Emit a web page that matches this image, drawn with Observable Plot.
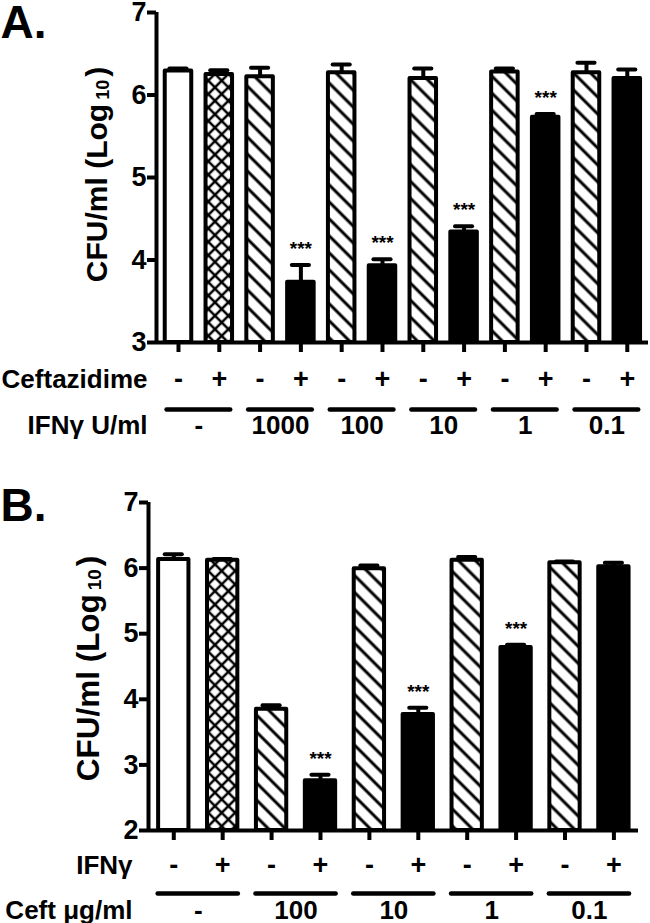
<!DOCTYPE html>
<html><head><meta charset="utf-8">
<script src="https://cdn.jsdelivr.net/npm/d3@7"></script>
<script src="https://cdn.jsdelivr.net/npm/@observablehq/plot@0.6"></script>
<style>
body{margin:0;background:#fff;}
#chart{width:650px;}
#chart svg{display:block;}
</style></head><body><div id="chart"></div>
<script>
// ---------- Panel A: IFN-gamma dose groups, Ceftazidime -/+ ----------
const aLetter = "A.";
const aCeftazidime = ["-","+","-","+","-","+","-","+","-","+","-","+"];
const aIfnGroups = ["-","1000","100","10","1","0.1"];
const aFills = ["open","cross","hatch","solid","hatch","solid","hatch","solid","hatch","solid","hatch","solid"];
const aMeans  = [6.29,6.25,6.22,3.73,6.27,3.93,6.20,4.34,6.28,5.73,6.27,6.20];
const aErrors = [0.03,0.05,0.11,0.21,0.10,0.08,0.12,0.07,0.04,0.04,0.12,0.11];
const aStars  = ["","","","***","","***","","***","","***","",""];
const aYTicks = [3,4,5,6,7];
const aRowLabel = "Ceftazidime";
const aGroupLabel = "IFNγ U/ml";

// ---------- Panel B: Ceftazidime dose groups, IFN-gamma -/+ ----------
const bLetter = "B.";
const bIfn = ["-","+","-","+","-","+","-","+","-","+"];
const bCeftGroups = ["-","100","10","1","0.1"];
const bFills = ["open","cross","hatch","solid","hatch","solid","hatch","solid","hatch","solid"];
const bMeans  = [6.13,6.12,3.85,2.76,5.99,3.77,6.12,4.79,6.08,6.02];
const bErrors = [0.08,0.02,0.06,0.09,0.05,0.10,0.05,0.04,0.02,0.06];
const bStars  = ["","","","***","","***","","***","",""];
const bYTicks = [2,3,4,5,6,7];
const bRowLabel = "IFNγ";
const bGroupLabel = "Ceft μg/ml";

const yTitle = "CFU/ml (Log10)";
const FONT = "Arial, 'Liberation Sans', Helvetica, sans-serif";

function patternDefs(id) {
  return () => {
    const defs = d3.create("svg:defs");
    const h = defs.append("pattern").attr("id", id + "-hatch")
      .attr("patternUnits", "userSpaceOnUse").attr("width", 12).attr("height", 12)
      .attr("patternTransform", "rotate(45)");
    h.append("rect").attr("width", 12).attr("height", 12).attr("fill", "white");
    h.append("line").attr("x1", 0).attr("x2", 12).attr("y1", 6).attr("y2", 6)
      .attr("stroke", "black").attr("stroke-width", 3);
    const c = defs.append("pattern").attr("id", id + "-cross")
      .attr("patternUnits", "userSpaceOnUse").attr("width", 9.5).attr("height", 9.5)
      .attr("patternTransform", "rotate(45)");
    c.append("rect").attr("width", 9.5).attr("height", 9.5).attr("fill", "white");
    c.append("line").attr("x1", 0).attr("x2", 9.5).attr("y1", 4.75).attr("y2", 4.75)
      .attr("stroke", "black").attr("stroke-width", 2.5);
    c.append("line").attr("y1", 0).attr("y2", 9.5).attr("x1", 4.75).attr("x2", 4.75)
      .attr("stroke", "black").attr("stroke-width", 2.5);
    return defs.node();
  };
}

function panel(p) {
  const bars = p.means.map((mean, i) => ({i, mean, err: p.errors[i], fill: p.fills[i], star: p.stars[i], sign: p.signs[i]}));
  const groups = p.groups.map((label, g) => ({label, first: 2 * g, last: 2 * g + 1}));
  const yMin = p.yTicks[0], yMax = p.yTicks[p.yTicks.length - 1];
  const fillOf = d => d.fill === "open" ? "white" : d.fill === "solid" ? "black" : `url(#${p.id}-${d.fill})`;
  const svg = Plot.plot({
    width: 650, height: p.height,
    marginTop: p.mt, marginBottom: p.mb, marginLeft: p.ml, marginRight: p.mr,
    x: {type: "linear", domain: p.xDomain},
    y: {domain: [yMin, yMax]},
    color: {type: "identity"},
    style: {fontFamily: FONT, fontWeight: "bold", fontSize: "25px", background: "white", color: "black", overflow: "visible"},
    marks: [
      patternDefs(p.id),
      Plot.rect(bars, {x1: d => d.i - p.barHalf, x2: d => d.i + p.barHalf, y1: yMin, y2: "mean",
        fill: fillOf, stroke: "black", strokeWidth: 4, strokeLinejoin: "round"}),
      Plot.ruleX(bars, {x: "i", y1: "mean", y2: d => d.mean + d.err, stroke: "black", strokeWidth: 4}),
      Plot.ruleY(bars, {x1: d => d.i - p.capHalf, x2: d => d.i + p.capHalf, y: d => d.mean + d.err,
        stroke: "black", strokeWidth: 4, strokeLinecap: "round"}),
      Plot.text(bars.filter(d => d.star), {x: "i", y: d => d.mean + d.err, text: "star", dy: -16,
        fontSize: 19, lineAnchor: "middle"}),
      Plot.ruleX([p.xDomain[0]], {stroke: "black", strokeWidth: 4}),
      Plot.ruleY([yMin], {stroke: "black", strokeWidth: 4}),
      Plot.axisY({ticks: p.yTicks, tickFormat: d3.format("d"), tickSize: 9, tickPadding: 1, strokeWidth: 4,
        fontSize: 27, label: null}),
      Plot.axisX({ticks: bars.map(d => d.i), tickSize: 10, tickFormat: () => "", strokeWidth: 4, label: null}),
      Plot.text(bars, {x: "i", text: "sign", frameAnchor: "bottom", dy: p.rowDy, fontSize: 27, lineAnchor: "middle"}),
      Plot.ruleY(groups, {x1: d => d.first - p.groupExt, x2: d => d.last + p.groupExt, y: yMin, dy: p.lineDy,
        stroke: "black", strokeWidth: 4.5, strokeLinecap: "round"}),
      Plot.text(groups, {x: d => (d.first + d.last) / 2, text: "label", frameAnchor: "bottom", dy: p.groupDy,
        fontSize: 26, lineAnchor: "middle"}),
      Plot.text([p.rowLabel], {text: d => d, frameAnchor: "bottom-left", dx: p.labelDx, dy: p.rowDy,
        textAnchor: "end", fontSize: 26, lineAnchor: "middle"}),
      Plot.text([p.groupLabel], {text: d => d, frameAnchor: "bottom-left", dx: p.labelDx, dy: p.groupDy,
        textAnchor: "end", fontSize: 26, lineAnchor: "middle"}),
      Plot.text([yTitle], {text: d => d, frameAnchor: "left", rotate: -90, dx: p.titleDx, dy: p.titleDy,
        fontSize: p.titleSize, textAnchor: "middle", lineAnchor: "middle"}),
      Plot.text([p.letter], {text: d => d, frameAnchor: "top-left", dx: -p.ml, dy: p.letterDy,
        textAnchor: "start", lineAnchor: "top", fontSize: 46})
    ]
  });
  // subscript for Log10
  d3.select(svg).selectAll("text").filter(function () { return this.textContent === yTitle; }).each(function () {
    const t = d3.select(this);
    t.text(null);
    t.append("tspan").text("CFU/ml (Log");
    t.append("tspan").attr("font-size", p.titleSize * 0.6).attr("dx", 4).attr("dy", 2).text("10");
    t.append("tspan").attr("dx", 3).attr("dy", -2).text(")");
  });
  return svg;
}

const chart = document.getElementById("chart");
chart.appendChild(panel({
  id: "pa", letter: aLetter, signs: aCeftazidime, groups: aIfnGroups, fills: aFills,
  means: aMeans, errors: aErrors, stars: aStars, yTicks: aYTicks,
  rowLabel: aRowLabel, groupLabel: aGroupLabel,
  height: 450, mt: 12, mb: 108, ml: 156, mr: 2, xDomain: [-0.539, 11.52],
  barHalf: 0.325, capHalf: 0.21, groupExt: 0.28,
  rowDy: 37, lineDy: 67, groupDy: 83, labelDx: -9,
  titleDx: -59, titleDy: -3, titleSize: 30, letterDy: -7
}));
chart.appendChild(panel({
  id: "pb", letter: bLetter, signs: bIfn, groups: bCeftGroups, fills: bFills,
  means: bMeans, errors: bErrors, stars: bStars, yTicks: bYTicks,
  rowLabel: bRowLabel, groupLabel: bGroupLabel,
  height: 473, mt: 52, mb: 93, ml: 148, mr: 12, xDomain: [-0.517, 9.503],
  barHalf: 0.31, capHalf: 0.175, groupExt: 0.32,
  rowDy: 35, lineDy: 63, groupDy: 80, labelDx: -16,
  titleDx: -60, titleDy: 2, titleSize: 31.5, letterDy: -14
}));
</script></body></html>
